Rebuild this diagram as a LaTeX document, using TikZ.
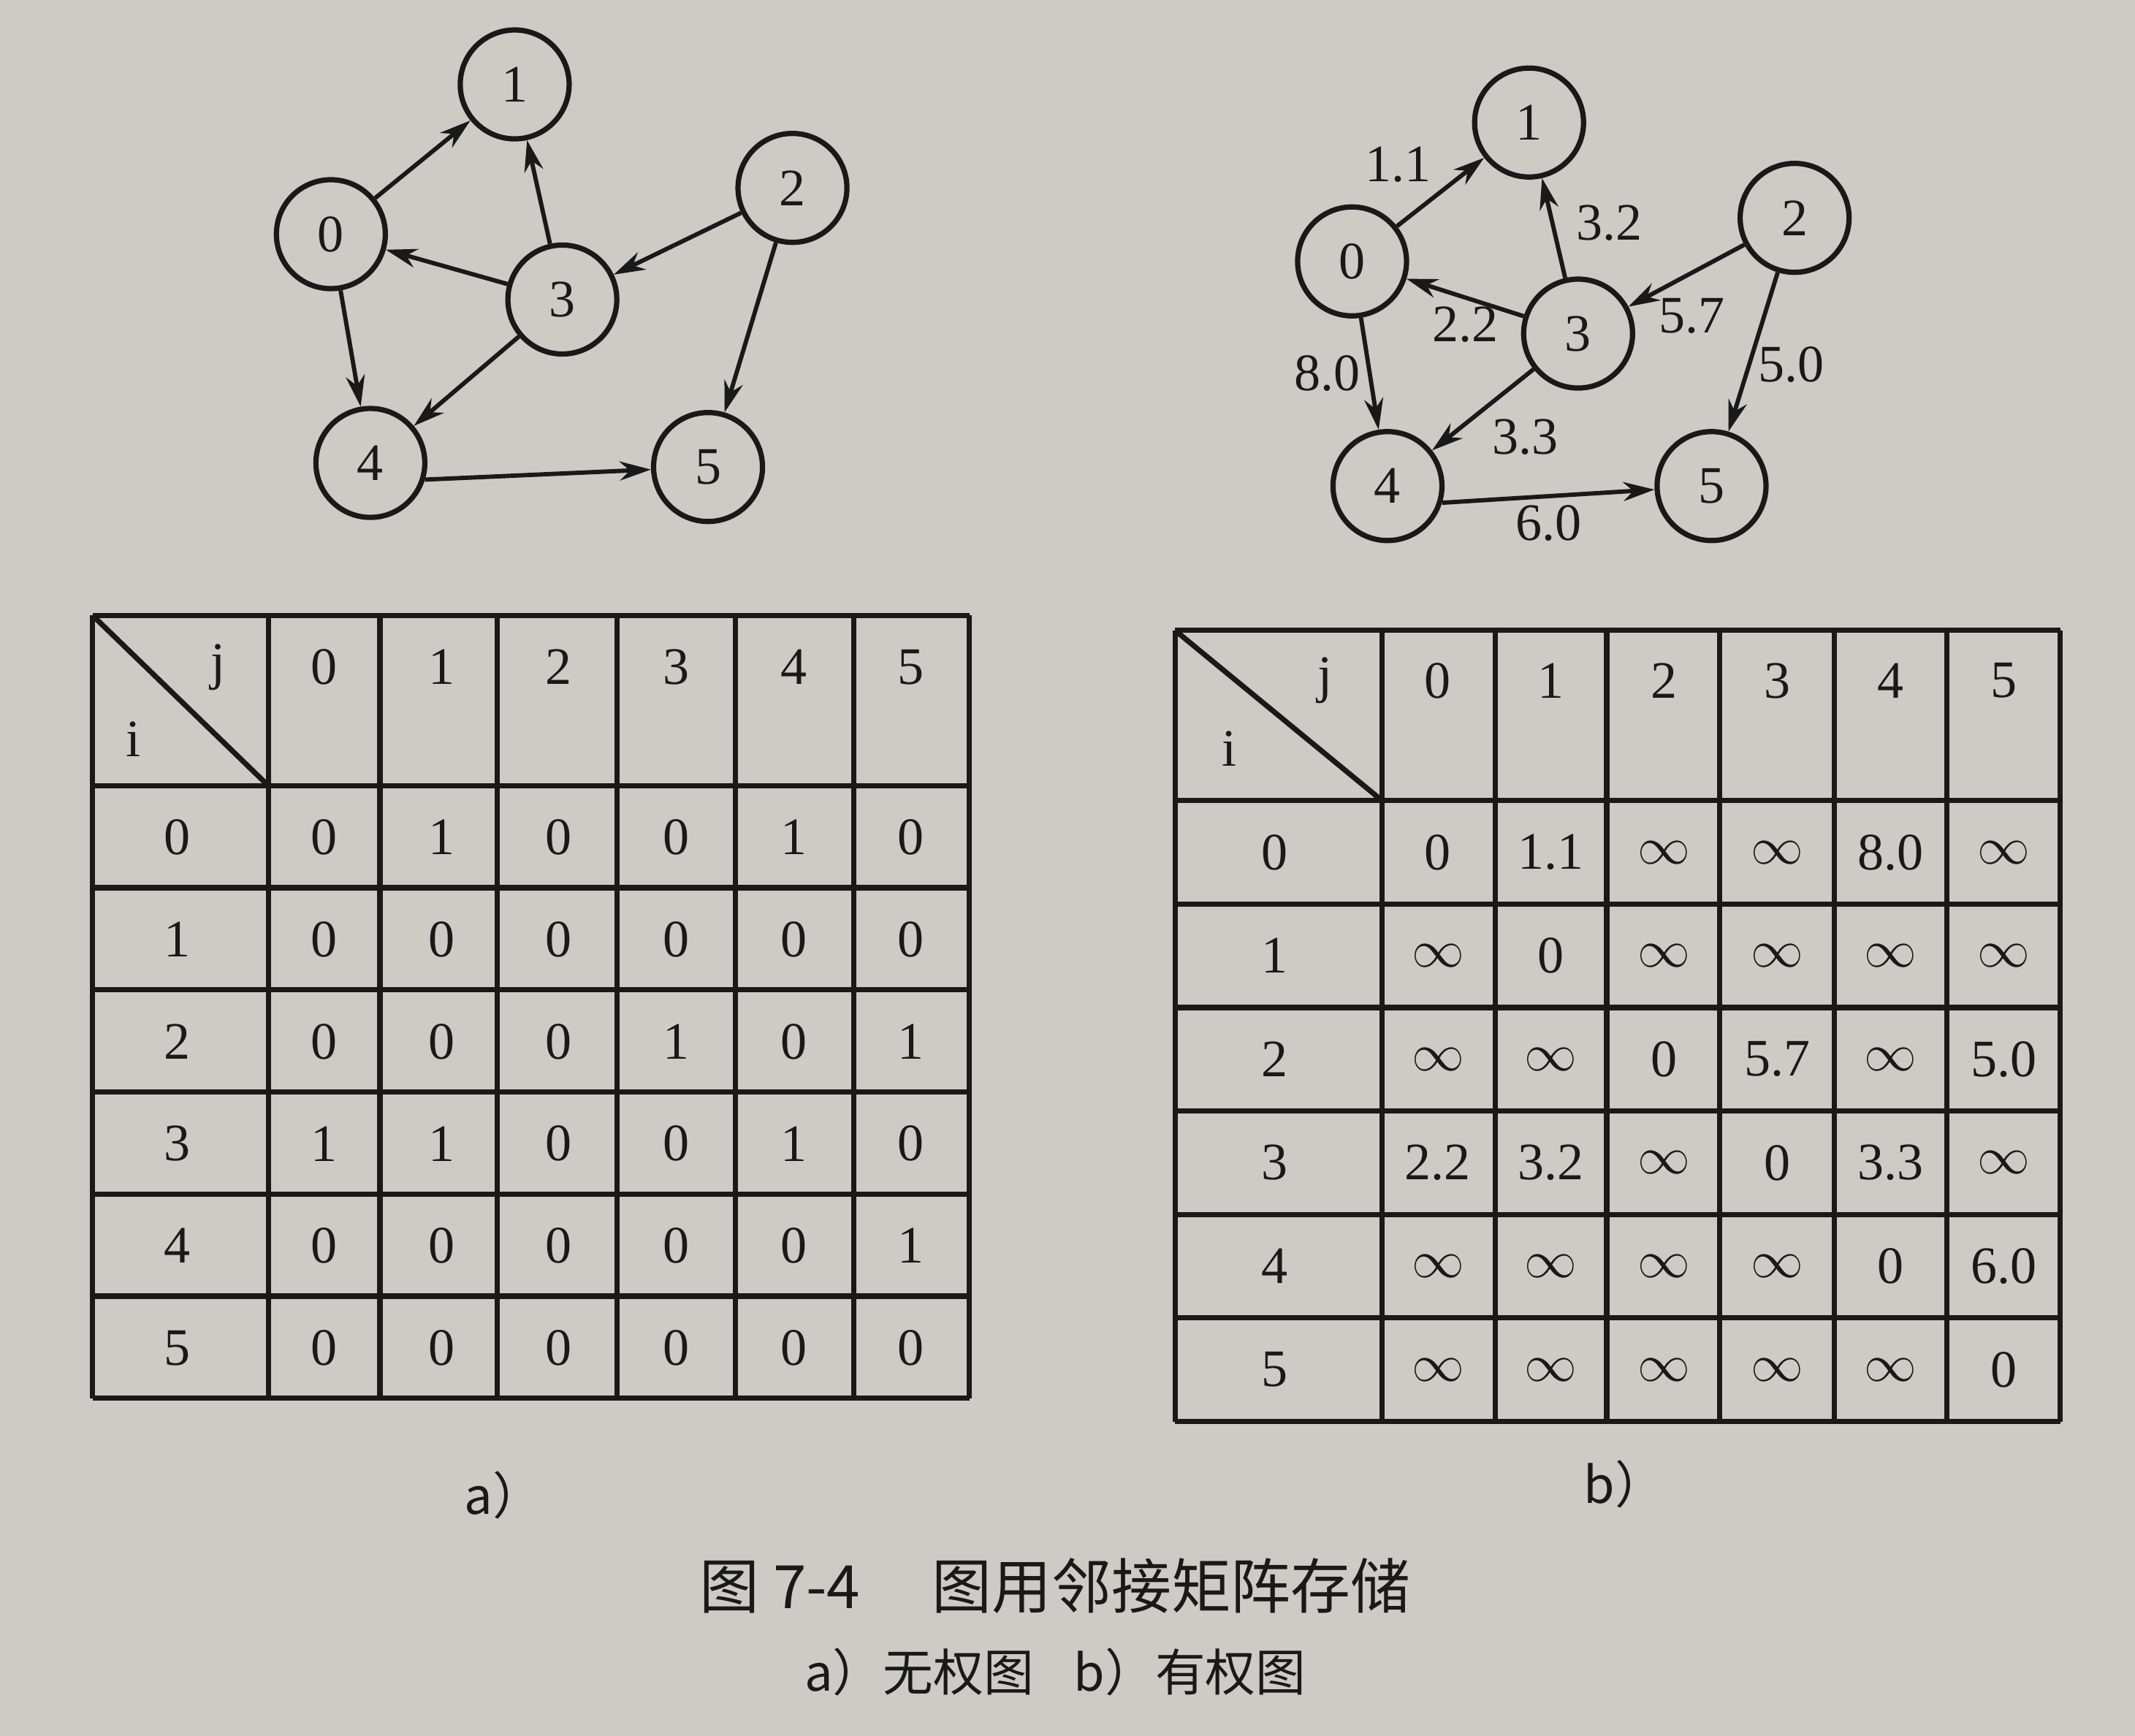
\documentclass[tikz,border=0pt]{standalone}
\usepackage{fontspec}
\setmainfont{Liberation Serif}
\newfontfamily\cjk{Noto Sans CJK SC}
\usetikzlibrary{arrows.meta}
\definecolor{paper}{RGB}{204,203,198}
\definecolor{ink}{RGB}{25,25,25}
\newcommand\INF{$\infty$}

\begin{document}
\begin{tikzpicture}[
        x=0.1mm, y=-0.1mm,
        vertex/.style={circle, draw=ink, line width=1.1pt, minimum size=8mm, inner sep=0pt, text=ink, font=\fontsize{11}{12}\selectfont},
        link/.style={draw=ink, line width=0.9pt, -{Stealth[length=2.3mm, width=1.4mm]}},
        weight/.style={text=ink, inner sep=1.5pt, font=\fontsize{11}{12}\selectfont},
        tabline/.style={draw=ink, line width=1.1pt},
        cell/.style={text=ink, inner sep=1pt, font=\fontsize{11}{12}\selectfont}
    ]
        % 背景
        \fill[paper] (0,0) rectangle (1568,1275);

        % a) 无权图
        \node[vertex] (a0) at (243,172) {0};
        \node[vertex] (a1) at (378,62) {1};
        \node[vertex] (a2) at (582,138) {2};
        \node[vertex] (a3) at (413,220) {3};
        \node[vertex] (a4) at (272,340) {4};
        \node[vertex] (a5) at (520,343) {5};

        \draw[link] (a0) -- (a1);
        \draw[link] (a3) -- (a1);
        \draw[link] (a3) -- (a0);
        \draw[link] (a2) -- (a3);
        \draw[link] (a2) -- (a5);
        \draw[link] (a0) -- (a4);
        \draw[link] (a3) -- (a4);
        \draw[link] (a4.343) -- (a5);

        % b) 有权图
        \node[vertex] (b0) at (993,192) {0};
        \node[vertex] (b1) at (1123,90) {1};
        \node[vertex] (b2) at (1318,160) {2};
        \node[vertex] (b3) at (1159,245) {3};
        \node[vertex] (b4) at (1019,357) {4};
        \node[vertex] (b5) at (1257,357) {5};

        \draw[link] (b0) -- node[weight, above left] {1.1} (b1);
        \draw[link] (b3) -- node[weight, pos=0.55, right=3pt] {3.2} (b1);
        \draw[link] (b3) -- node[weight, below] {2.2} (b0);
        \draw[link] (b2) -- node[weight, pos=0.45, below, yshift=-1.2mm] {5.7} (b3);
        \draw[link] (b2) -- node[weight, pos=0.58, right] {5.0} (b5);
        \draw[link] (b0) -- node[weight, left] {8.0} (b4);
        \draw[link] (b3) -- node[weight, below right] {3.3} (b4);
        \draw[link] (b4.343) -- node[weight, below] {6.0} (b5);

        % 邻接矩阵 a
        \foreach \y in {452,577,652,727,802,877,952,1027}
            \draw[tabline] (68,\y) -- (712,\y);
        \foreach \x in {68,197,279,365,453,540,627,712}
            \draw[tabline] (\x,452) -- (\x,1027);
        \draw[tabline] (68,452) -- (197,577);
        \node[cell] (ja) at (160,490) {j};
        \node[cell] (ia) at (98,543) {i};
        \foreach \j in {0,...,5}
            \node[cell] (ha\j) at (238+86.2*\j,490) {\j};
        \foreach \row [count=\i from 0] in {{0,1,0,0,1,0},{0,0,0,0,0,0},{0,0,0,1,0,1},
                {1,1,0,0,1,0},{0,0,0,0,0,1},{0,0,0,0,0,0}}{
            \node[cell] (ra\i) at (130,615+75*\i) {\i};
            \foreach \v [count=\j from 0] in \row
                \node[cell] (ma\i\j) at (238+86.2*\j,615+75*\i) {\v};
        }

        % 邻接矩阵 b
        \foreach \y in {463,588,664,740,816,892,968,1044}
            \draw[tabline] (863,\y) -- (1513,\y);
        \foreach \x in {863,1015,1098,1180,1263,1347,1430,1513}
            \draw[tabline] (\x,463) -- (\x,1044);
        \draw[tabline] (863,463) -- (1015,588);
        \node[cell] (jb) at (973,500) {j};
        \node[cell] (ib) at (903,550) {i};
        \foreach \j in {0,...,5}
            \node[cell] (hb\j) at (1056+83.1*\j,500) {\j};
        \foreach \row [count=\i from 0] in {{0,1.1,\INF,\INF,8.0,\INF},{\INF,0,\INF,\INF,\INF,\INF},
                {\INF,\INF,0,5.7,\INF,5.0},{2.2,3.2,\INF,0,3.3,\INF},
                {\INF,\INF,\INF,\INF,0,6.0},{\INF,\INF,\INF,\INF,\INF,0}}{
            \node[cell] (rb\i) at (936,626+76*\i) {\i};
            \foreach \v [count=\j from 0] in \row
                \node[cell] (mb\i\j) at (1056+83.1*\j,626+76*\i) {\v};
        }

        % 图题
        \node[text=ink, font=\cjk\fontsize{10.5}{12}\selectfont] (capa) at (370,1098) {a）};
        \node[text=ink, font=\cjk\fontsize{10.5}{12}\selectfont] (capb) at (1193,1090) {b）};
        \node[text=ink, font=\cjk\fontsize{12.5}{14}\selectfont] (title) at (775,1165) {图 7-4\hspace{1.2em}图用邻接矩阵存储};
        \node[text=ink, font=\cjk\fontsize{10.5}{12}\selectfont] (sub) at (775,1228) {a）无权图\hspace{0.8em}b）有权图};
    \end{tikzpicture}
\end{document}
